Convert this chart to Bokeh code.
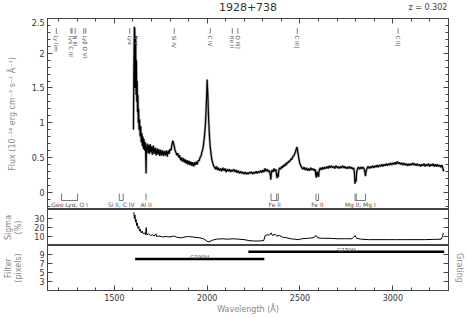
import numpy as np
from bokeh.plotting import figure
from bokeh.layouts import column
from bokeh.models import Range1d, LinearAxis, FixedTicker, CustomLabelingPolicy
from bokeh.embed import file_html
from bokeh.resources import INLINE
from bokeh.core.properties import value

# ---------------- data ----------------
object_name = "1928+738"
redshift = 0.302

wave = [1603, 1605, 1607, 1608, 1609, 1610, 1611, 1612, 1613, 1615, 1617, 1619, 1621, 1623, 1625, 1627, 1629,
        1631, 1633, 1636, 1639, 1642, 1645, 1648, 1651, 1654, 1657, 1660, 1663, 1666, 1669, 1671, 1673, 1677,
        1681, 1685, 1689, 1693, 1697, 1701, 1705, 1710, 1715, 1720, 1725, 1730, 1735, 1740, 1745, 1750, 1755,
        1760, 1765, 1770, 1775, 1780, 1785, 1790, 1795, 1800, 1805, 1810, 1815, 1819, 1823, 1827, 1832, 1837,
        1842, 1847, 1852, 1857, 1862, 1867, 1872, 1877, 1882, 1887, 1892, 1897, 1902, 1907, 1912, 1917, 1922,
        1927, 1932, 1937, 1942, 1947, 1952, 1957, 1962, 1967, 1972, 1977, 1982, 1986, 1990, 1993, 1996, 1998,
        2000, 2002, 2004, 2006, 2008, 2011, 2014, 2017, 2021, 2025, 2030, 2035, 2040, 2045, 2050, 2055, 2060,
        2066, 2072, 2078, 2084, 2090, 2096, 2102, 2108, 2114, 2120, 2126, 2132, 2138, 2144, 2150, 2156, 2162,
        2168, 2174, 2180, 2186, 2192, 2198, 2204, 2210, 2216, 2222, 2228, 2234, 2240, 2246, 2252, 2258, 2264,
        2270, 2276, 2282, 2288, 2294, 2300, 2306, 2312, 2318, 2324, 2330, 2336, 2340, 2343, 2346, 2350, 2355,
        2360, 2365, 2370, 2374, 2377, 2380, 2383, 2386, 2391, 2396, 2401, 2406, 2411, 2416, 2421, 2426, 2431,
        2436, 2441, 2446, 2451, 2456, 2461, 2466, 2471, 2476, 2480, 2484, 2487, 2490, 2493, 2497, 2501, 2506,
        2511, 2516, 2522, 2528, 2534, 2540, 2546, 2552, 2558, 2564, 2570, 2576, 2582, 2586, 2589, 2592, 2596,
        2600, 2604, 2610, 2616, 2622, 2628, 2634, 2640, 2646, 2652, 2658, 2664, 2670, 2676, 2682, 2688, 2694,
        2700, 2706, 2712, 2718, 2724, 2730, 2736, 2742, 2748, 2754, 2760, 2766, 2772, 2778, 2784, 2790, 2794,
        2796, 2799, 2802, 2805, 2810, 2816, 2822, 2828, 2834, 2840, 2846, 2850, 2853, 2856, 2862, 2868, 2874,
        2880, 2886, 2892, 2898, 2904, 2910, 2916, 2922, 2928, 2934, 2940, 2946, 2952, 2958, 2964, 2970, 2976,
        2982, 2988, 2994, 3000, 3006, 3012, 3018, 3024, 3030, 3036, 3042, 3048, 3054, 3060, 3066, 3072, 3078,
        3084, 3090, 3096, 3102, 3108, 3114, 3120, 3126, 3132, 3138, 3144, 3150, 3156, 3162, 3168, 3174, 3180,
        3186, 3192, 3198, 3204, 3210, 3216, 3222, 3228, 3234, 3240, 3246, 3252, 3258, 3264, 3270, 3274]
flux = [0.90, 1.70, 2.20, 2.38, 1.80, 2.30, 1.50, 2.10, 1.70, 2.25, 1.40, 1.90, 1.30, 1.60, 1.15, 1.40, 1.00,
        1.20, 0.90, 1.05, 0.80, 0.95, 0.72, 0.85, 0.66, 0.80, 0.62, 0.76, 0.60, 0.72, 0.56, 0.27, 0.62, 0.70,
        0.56, 0.68, 0.55, 0.69, 0.57, 0.66, 0.54, 0.67, 0.55, 0.64, 0.53, 0.63, 0.54, 0.62, 0.52, 0.61, 0.53,
        0.60, 0.52, 0.59, 0.53, 0.60, 0.51, 0.60, 0.55, 0.62, 0.60, 0.68, 0.74, 0.70, 0.66, 0.60, 0.57, 0.53,
        0.56, 0.50, 0.53, 0.46, 0.50, 0.44, 0.49, 0.43, 0.47, 0.41, 0.46, 0.40, 0.45, 0.39, 0.44, 0.38, 0.43,
        0.37, 0.43, 0.39, 0.44, 0.40, 0.46, 0.45, 0.50, 0.52, 0.58, 0.62, 0.72, 0.82, 0.95, 1.10, 1.30, 1.45,
        1.62, 1.50, 1.38, 1.20, 1.05, 0.88, 0.74, 0.64, 0.55, 0.47, 0.42, 0.38, 0.36, 0.33, 0.37, 0.32, 0.35,
        0.31, 0.34, 0.30, 0.35, 0.31, 0.34, 0.29, 0.33, 0.30, 0.33, 0.29, 0.32, 0.30, 0.33, 0.29, 0.32, 0.28,
        0.31, 0.27, 0.30, 0.27, 0.29, 0.26, 0.29, 0.26, 0.28, 0.26, 0.29, 0.27, 0.29, 0.26, 0.29, 0.27, 0.30,
        0.27, 0.30, 0.28, 0.31, 0.28, 0.32, 0.29, 0.34, 0.30, 0.33, 0.29, 0.31, 0.25, 0.18, 0.28, 0.32, 0.29,
        0.34, 0.30, 0.33, 0.24, 0.20, 0.27, 0.22, 0.32, 0.35, 0.33, 0.37, 0.35, 0.39, 0.37, 0.41, 0.39, 0.43,
        0.42, 0.45, 0.44, 0.48, 0.47, 0.51, 0.52, 0.55, 0.58, 0.62, 0.65, 0.60, 0.55, 0.50, 0.44, 0.40, 0.37,
        0.35, 0.33, 0.36, 0.32, 0.35, 0.31, 0.34, 0.31, 0.35, 0.32, 0.34, 0.31, 0.33, 0.23, 0.21, 0.30, 0.26,
        0.22, 0.32, 0.35, 0.32, 0.36, 0.33, 0.36, 0.34, 0.37, 0.34, 0.38, 0.35, 0.38, 0.35, 0.37, 0.34, 0.38,
        0.35, 0.37, 0.34, 0.37, 0.35, 0.38, 0.35, 0.37, 0.34, 0.36, 0.34, 0.37, 0.34, 0.36, 0.33, 0.35, 0.25,
        0.12, 0.20, 0.15, 0.28, 0.34, 0.36, 0.33, 0.36, 0.34, 0.36, 0.33, 0.28, 0.23, 0.30, 0.35, 0.37, 0.34,
        0.37, 0.35, 0.38, 0.35, 0.38, 0.36, 0.39, 0.36, 0.39, 0.37, 0.40, 0.37, 0.40, 0.38, 0.41, 0.38, 0.41,
        0.39, 0.42, 0.39, 0.42, 0.40, 0.43, 0.40, 0.44, 0.41, 0.43, 0.40, 0.42, 0.39, 0.42, 0.39, 0.41, 0.38,
        0.41, 0.38, 0.41, 0.39, 0.42, 0.39, 0.41, 0.38, 0.41, 0.38, 0.40, 0.37, 0.40, 0.38, 0.41, 0.37, 0.40,
        0.38, 0.41, 0.37, 0.40, 0.38, 0.41, 0.37, 0.40, 0.37, 0.40, 0.37, 0.39, 0.36, 0.39, 0.34, 0.30]

sig_wave = [1605, 1608, 1611, 1614, 1617, 1620, 1624, 1628, 1632, 1636, 1640, 1645, 1650, 1656, 1662, 1668,
            1672, 1675, 1685, 1695, 1705, 1715, 1724, 1728, 1740, 1760, 1780, 1800, 1820, 1840, 1860, 1880,
            1900, 1920, 1940, 1960, 1980, 1995, 2005, 2015, 2030, 2050, 2080, 2110, 2140, 2170, 2200, 2225,
            2250, 2280, 2305, 2312, 2325, 2335, 2345, 2352, 2365, 2375, 2390, 2410, 2430, 2450, 2470, 2490,
            2510, 2540, 2570, 2588, 2595, 2620, 2660, 2700, 2740, 2780, 2797, 2805, 2830, 2870, 2920, 2970,
            3020, 3070, 3120, 3170, 3220, 3260, 3268, 3272]
sigma = [37, 30, 34, 26, 29, 22, 25, 19, 21, 16, 18, 14, 16, 13, 14, 12,
         20, 12, 13, 11, 12, 10.5, 13, 10, 10.5, 9.5, 10, 9.5, 10.5, 9, 8.5, 9.5,
         10, 9.5, 9, 8.5, 7.5, 5.5, 4, 4.5, 6, 7, 7.5, 7, 7.5, 7, 6.5, 5.5,
         5, 5, 5.5, 11, 12, 11.5, 14, 11, 12.5, 10.5, 11, 9, 8.5, 7.5, 7, 6.5,
         7.5, 8, 8.5, 11, 8.5, 8, 8, 7.5, 7.5, 7.5, 11, 8, 7, 6.5, 6.5, 6.5,
         6.5, 6.5, 6.5, 6.5, 6.8, 7, 10, 14]

# emission line identifications (rest wavelengths, shown at the QSO redshift)
em_tick_rest = [912, 972.5, 977, 990, 1025.7, 1034, 1215.7, 1240, 1400, 1549, 1640, 1663, 1909, 2326]
em_label_rest = [912, 974.7, 990, 1029.8, 1215.7, 1240, 1400, 1549, 1640, 1663, 1909, 2326]
em_label_text = ["Ly lim", "Ly\u03b3 C III", "N III", "Ly\u03b2 O VI", "Ly\u03b1", "N V", "Si IV", "C IV",
                 "He II", "O III]", "C III]", "C II]"]

# Galactic absorption identifications (observed wavelengths)
ism_groups = [[1215.7, 1302.2], [1526.7, 1548.2], [1670.8], [2344.2, 2374.5, 2382.8],
              [2586.7, 2600.2], [2796.4, 2803.5, 2853.0]]
ism_text = ["Geo Ly\u03b1, O I", "Si II, C IV", "Al II", "Fe II", "Fe II", "Mg II, Mg I"]

# gratings
grating_name = ["G190H", "G270H"]
grating_start = [1612, 2222]
grating_end = [2308, 3277]
grating_filter = [8, 9.6]

x_major = [1500, 2000, 2500, 3000]
x_minor = list(range(1200, 3301, 100))
flux_major = [0.0, 0.5, 1.0, 1.5, 2.0, 2.5]
flux_minor = [round(-0.2 + 0.1 * i, 2) for i in range(28)]
sigma_major = [10, 20, 30]
filter_major = [3, 5, 7, 9]

# ---------------- styling helpers ----------------
FONT = "DejaVu Sans"
AX = "#444444"
xr = Range1d(1140, 3300)


def make_fig(h, top, bottom, yr, xloc=None):
    p = figure(width=468, height=h, x_range=xr, y_range=yr, output_backend="svg",
               toolbar_location=None, x_axis_location=xloc, y_axis_location="left",
               min_border_left=43, min_border_right=20, min_border_top=top,
               min_border_bottom=bottom)
    p.grid.visible = False
    p.outline_line_color = AX
    p.outline_line_width = 1
    p.background_fill_color = "white"
    p.border_fill_color = "white"
    return p


def style_axis(ax, labels=True):
    ax.axis_line_color = AX
    ax.major_tick_line_color = AX
    ax.minor_tick_line_color = AX
    ax.major_tick_in = 5
    ax.major_tick_out = 0
    ax.minor_tick_in = 3
    ax.minor_tick_out = 0
    ax.major_label_text_font = FONT
    ax.major_label_text_color = "#333333"
    ax.major_label_text_font_size = "8px" if labels else "0px"
    ax.major_label_standoff = 3 if labels else 0
    if not labels:
        ax.major_label_policy = CustomLabelingPolicy(code="return new Set()")
    ax.axis_label_text_font = FONT
    ax.axis_label_text_font_style = "normal"
    ax.axis_label_text_color = "#888888"
    ax.axis_label_text_font_size = "8px"


# ---------------- header (title strip) ----------------
p0 = figure(width=468, height=18, x_range=xr, y_range=Range1d(0, 18), output_backend="svg",
            toolbar_location=None, x_axis_location=None, y_axis_location=None,
            min_border_left=43, min_border_right=20, min_border_top=0, min_border_bottom=0)
p0.grid.visible = False
p0.outline_line_color = None
p0.background_fill_color = "white"
p0.border_fill_color = "white"
p0.text(x=[2220], y=[11.3], text=[object_name], text_align="center", text_baseline="middle",
        text_font=value(FONT), text_font_size="11px", text_color="#333333")
p0.text(x=[3294], y=[11.3], text=["z = %.3f" % redshift], text_align="right", text_baseline="middle",
        text_font=value(FONT), text_font_size="8px", text_color="#444444")

# ---------------- main flux panel ----------------
p1 = make_fig(191, 0, 0, Range1d(-0.25, 2.5))
ly = p1.yaxis[0]
ly.ticker = FixedTicker(ticks=flux_major, minor_ticks=flux_minor)
ly.formatter.precision = 1
style_axis(ly)
ly.axis_label = "Flux (10\u207b\u00b9\u2074 erg cm\u207b\u00b2 s\u207b\u00b9 \u00c5\u207b\u00b9)"
ly.axis_label_standoff = 12
ry = LinearAxis(ticker=FixedTicker(ticks=flux_major, minor_ticks=flux_minor))
style_axis(ry, labels=False)
p1.add_layout(ry, "right")
tx = LinearAxis(ticker=FixedTicker(ticks=x_major, minor_ticks=x_minor))
style_axis(tx, labels=False)
p1.add_layout(tx, "above")

p1.line(wave, flux, line_color="#777777", line_width=2.6, line_alpha=0.55)
p1.line(wave, flux, line_color="black", line_width=1.2)

# emission line IDs
em_tick_obs = [w * (1 + redshift) for w in em_tick_rest]
p1.segment(x0=em_tick_obs, y0=[2.36] * len(em_tick_obs), x1=em_tick_obs, y1=[2.28] * len(em_tick_obs),
           line_color="#555555", line_width=0.8)
em_label_obs = [w * (1 + redshift) for w in em_label_rest]
p1.text(x=em_label_obs, y=[2.255] * len(em_label_obs), text=em_label_text, angle=-np.pi / 2,
        text_align="left", text_baseline="middle", text_font=value(FONT), text_font_size="5.5px",
        text_color="#555555")

# galactic absorption IDs
bx0, by0, bx1, by1 = [], [], [], []
for grp in ism_groups:
    for w in grp:
        bx0.append(w); by0.append(-0.02); bx1.append(w); by1.append(-0.12)
    if len(grp) > 1:
        bx0.append(min(grp)); by0.append(-0.12); bx1.append(max(grp)); by1.append(-0.12)
p1.segment(x0=bx0, y0=by0, x1=bx1, y1=by1, line_color="#555555", line_width=0.8)
ism_center = [(min(g) + max(g)) / 2 for g in ism_groups]
p1.text(x=ism_center, y=[-0.185] * len(ism_center), text=ism_text, text_align="center",
        text_baseline="middle", text_font=value(FONT), text_font_size="6px", text_color="#555555")

# ---------------- sigma panel ----------------
p2 = make_fig(36, 0, 0, Range1d(0, 40))
sy = p2.yaxis[0]
sy.ticker = FixedTicker(ticks=sigma_major)
style_axis(sy)
sy.axis_label = "Sigma\n(%)"
sy.axis_label_standoff = 8
sry = LinearAxis(ticker=FixedTicker(ticks=sigma_major))
style_axis(sry, labels=False)
p2.add_layout(sry, "right")
p2.line(sig_wave, sigma, line_color="black", line_width=1)

# ---------------- filter / grating panel ----------------
p3 = make_fig(73, 0, 28, Range1d(1, 11), xloc="below")
bx = p3.xaxis[0]
bx.ticker = FixedTicker(ticks=x_major, minor_ticks=x_minor)
style_axis(bx)
bx.axis_label = "Wavelength (\u00c5)"
bx.axis_label_standoff = 1
fy = p3.yaxis[0]
fy.ticker = FixedTicker(ticks=filter_major)
style_axis(fy)
fy.axis_label = "Filter\n(pixels)"
fy.axis_label_standoff = 13
fry = LinearAxis(ticker=FixedTicker(ticks=filter_major))
style_axis(fry, labels=False)
fry.axis_label = "Grating"
fry.axis_label_standoff = 6
p3.add_layout(fry, "right")
p3.segment(x0=grating_start, y0=grating_filter, x1=grating_end, y1=grating_filter,
           line_color="black", line_width=2.5)
g_center = [(a + b) / 2 for a, b in zip(grating_start, grating_end)]
p3.text(x=g_center, y=[f + 0.4 for f in grating_filter], text=grating_name, text_align="center",
        text_baseline="alphabetic", text_font=value(FONT), text_font_size="5.5px", text_color="#444444")

layout = column(p0, p1, p2, p3, spacing=0)
open("out.html", "w").write(file_html(layout, INLINE))
